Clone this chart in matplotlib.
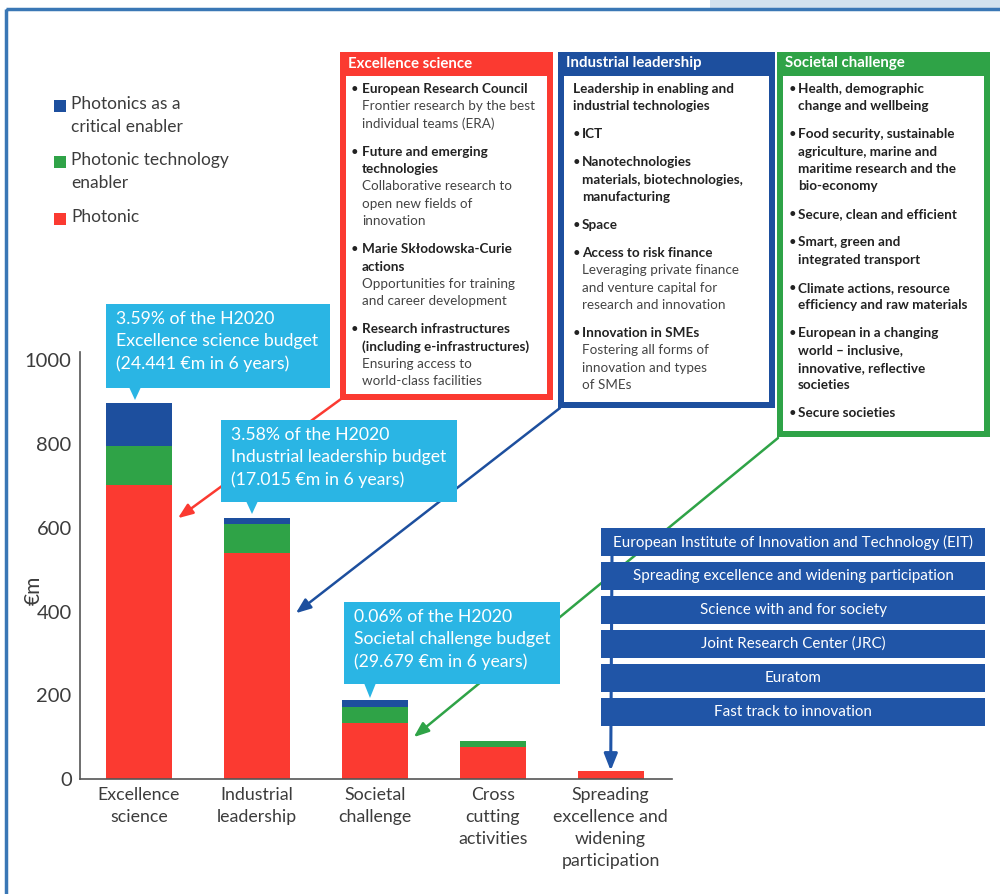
import matplotlib

matplotlib.use("Agg")
import matplotlib.pyplot as plt
from matplotlib.patches import Rectangle, Polygon
import numpy as np

plt.rcParams["font.family"] = ["Lato", "DejaVu Sans"]

# ---- data -------------------------------------------------------------
CATEGORIES = [
    "Excellence\nscience",
    "Industrial\nleadership",
    "Societal\nchallenge",
    "Cross\ncutting\nactivities",
    "Spreading\nexcellence and\nwidening\nparticipation",
]
PHOTONIC = [702, 540, 134, 76, 20]
TECH_ENABLER = [93, 69, 39, 15, 0]
CRITICAL_ENABLER = [102, 15, 15, 0, 0]

SERIES_NAMES = [
    "Photonics as a\ncritical enabler",
    "Photonic technology\nenabler",
    "Photonic",
]

CALLOUTS = [
    "3.59% of the H2020\nExcellence science budget\n(24.441 €m in 6 years)",
    "3.58% of the H2020\nIndustrial leadership budget\n(17.015 €m in 6 years)",
    "0.06% of the H2020\nSocietal challenge budget\n(29.679 €m in 6 years)",
]

EXC_ITEMS = [
    [("European Research Council", True), ("Frontier research by the best", False),
     ("individual teams (ERA)", False)],
    [("Future and emerging", True), ("technologies", True), ("Collaborative research to", False),
     ("open new fields of", False), ("innovation", False)],
    [("Marie Skłodowska-Curie", True), ("actions", True), ("Opportunities for training", False),
     ("and career development", False)],
    [("Research infrastructures", True), ("(including e-infrastructures)", True),
     ("Ensuring access to", False), ("world-class facilities", False)],
]
IND_ITEMS = [
    [("Leadership in enabling and", True), ("industrial technologies", True)],
    [("ICT", True)],
    [("Nanotechnologies", True), ("materials, biotechnologies,", True), ("manufacturing", True)],
    [("Space", True)],
    [("Access to risk finance", True), ("Leveraging private finance", False),
     ("and venture capital for", False), ("research and innovation", False)],
    [("Innovation in SMEs", True), ("Fostering all forms of", False),
     ("innovation and types", False), ("of SMEs", False)],
]
IND_BULLETS = [False, True, True, True, True, True]
SOC_ITEMS = [
    [("Health, demographic", True), ("change and wellbeing", True)],
    [("Food security, sustainable", True), ("agriculture, marine and", True),
     ("maritime research and the", True), ("bio-economy", True)],
    [("Secure, clean and efficient", True)],
    [("Smart, green and", True), ("integrated transport", True)],
    [("Climate actions, resource", True), ("efficiency and raw materials", True)],
    [("European in a changing", True), ("world – inclusive,", True),
     ("innovative, reflective", True), ("societies", True)],
    [("Secure societies", True)],
]

OTHER_PROGRAMMES = [
    "European Institute of Innovation and Technology (EIT)",
    "Spreading excellence and widening participation",
    "Science with and for society",
    "Joint Research Center (JRC)",
    "Euratom",
    "Fast track to innovation",
]

RED = "#FB3A31"
GREEN = "#2FA347"
BLUE = "#1D4F9E"
SKY = "#2AB5E4"
ROW_BLUE = "#2055A7"
TEXT = "#3C3C3C"

W, H = 1000, 894
fig = plt.figure(figsize=(W / 100, H / 100), dpi=100)
fig.patch.set_facecolor("white")

# ---- bar chart ---------------------------------------------------------
ax = fig.add_axes([80 / W, 1 - 779 / H, 592 / W, 427 / H])
x = np.arange(len(CATEGORIES))
red = np.array(PHOTONIC)
green = np.array(TECH_ENABLER)
blue = np.array(CRITICAL_ENABLER)
bw = 0.56
ax.bar(x, red, bw, color=RED, zorder=2)
ax.bar(x, green, bw, bottom=red, color=GREEN, zorder=2)
ax.bar(x, blue, bw, bottom=red + green, color=BLUE, zorder=2)
ax.set_xlim(-0.5, 4.52)
ax.set_ylim(0, 1020)
ax.set_yticks([0, 200, 400, 600, 800, 1000])
ax.set_xticks(x, CATEGORIES)
for lbl in ax.get_xticklabels():
    lbl.set_linespacing(1.45)
    lbl.set_verticalalignment("top")
ax.tick_params(axis="y", length=0, pad=6, labelsize=14.5, labelcolor=TEXT)
ax.tick_params(axis="x", length=0, pad=6, labelsize=12.8, labelcolor=TEXT)
for s in ["top", "right"]:
    ax.spines[s].set_visible(False)
for s in ["left", "bottom"]:
    ax.spines[s].set_color("#555555")
    ax.spines[s].set_linewidth(1.2)
ax.set_ylabel("€m", fontsize=15, color=TEXT, va="center")
ax.yaxis.set_label_coords(-46 / 592, (779 - 590) / 427)

# ---- overlay in pixel coordinates -------------------------------------
ov = fig.add_axes([0, 0, 1, 1], zorder=5)
ov.set_xlim(0, W)
ov.set_ylim(H, 0)
ov.axis("off")
ov.patch.set_visible(False)

# frame
ov.add_patch(Rectangle((710, 0), 290, 8, color="#D3E2EE", lw=0))
ov.add_patch(Rectangle((6, 9), 1010, 900, fill=False, ec="#3A77B5", lw=2.5))

# legend
for i, (name, col) in enumerate(zip(SERIES_NAMES, [BLUE, GREEN, RED])):
    yy = [106, 162, 219][i]
    ov.add_patch(Rectangle((54, yy - 6), 12, 12, color=col, lw=0))
    ov.text(71, yy - 10, name, fontsize=12.5, color=TEXT, va="top", ha="left",
            linespacing=1.5)


# top panels
def panel(x0, x1, y1, color, title):
    ov.add_patch(Rectangle((x0, 52), x1 - x0, y1 - 52, color=color, lw=0, zorder=2))
    ov.add_patch(Rectangle((x0 + 6, 76), x1 - x0 - 12, y1 - 82, color="white", lw=0, zorder=2))
    ov.text(x0 + 8, 63.5, title, color="white", fontsize=10.8, fontweight="bold",
            va="center", ha="left", zorder=3)


def body(xb, xt, items, bullets):
    y = 89
    for item, bul in zip(items, bullets):
        for j, (line, bold) in enumerate(item):
            if j == 0 and bul:
                ov.text(xb, y, "•", fontsize=9.5, color="#222222", va="center", zorder=3)
            ov.text(xt if bul else xb, y, line, fontsize=9.7,
                    fontweight="bold" if bold else "normal",
                    color="#222222" if bold else "#444444", va="center", zorder=3)
            y += 17.4
        y += 10.5


panel(340, 553, 400, RED, "Excellence science")
body(351, 362, EXC_ITEMS, [True] * len(EXC_ITEMS))
panel(558, 775, 408, BLUE, "Industrial leadership")
body(573, 582, IND_ITEMS, IND_BULLETS)
panel(777, 990, 437, GREEN, "Societal challenge")
body(789, 798, SOC_ITEMS, [True] * len(SOC_ITEMS))

# arrows from panels to bars
arrow_kw = dict(xycoords=ax.transData, textcoords="data")
for xt, yt, i, yv, col in [(341, 399, 0, 623, RED), (560, 408, 1, 396, BLUE),
                           (778, 438, 2, 100, GREEN)]:
    ov.annotate("", xy=(i + 0.33, yv), xytext=(xt, yt), **arrow_kw,
                arrowprops=dict(arrowstyle="-|>,head_length=0.9,head_width=0.35",
                                color=col, lw=1.8, shrinkA=0, shrinkB=0), zorder=1)

# other programmes stack with arrow to last bar
ov.annotate("", xy=(4, red[4] + green[4] + blue[4]), xytext=(612, 556), **arrow_kw,
            arrowprops=dict(arrowstyle="-|>,head_length=1.0,head_width=0.4",
                            color=ROW_BLUE, lw=2.2, shrinkA=0, shrinkB=0), zorder=3)
for k, name in enumerate(OTHER_PROGRAMMES):
    top = 528 + 34 * k
    ov.add_patch(Rectangle((601, top), 384, 28, color=ROW_BLUE, lw=0, zorder=4))
    ov.text(793, top + 14, name, color="white", fontsize=10.9, ha="center",
            va="center", zorder=5)

# callout boxes
for text, (bx0, by0, bx1, by1, tx, ty) in zip(
    CALLOUTS,
    [(106, 304, 330, 388, 135, 400), (221, 420, 457, 502, 252, 514),
     (344, 602, 560, 684, 370, 698)],
):
    ov.add_patch(Rectangle((bx0, by0), bx1 - bx0, by1 - by0, color=SKY, lw=0, zorder=6))
    ov.add_patch(Polygon([(tx - 6, by1 - 1), (tx + 6, by1 - 1), (tx, ty)], color=SKY,
                         lw=0, zorder=6))
    ov.text(bx0 + 10, by0 + 7, text, color="white", fontsize=12.7, va="top",
            ha="left", linespacing=1.45, zorder=7)

fig.savefig("out.png", dpi=100)
